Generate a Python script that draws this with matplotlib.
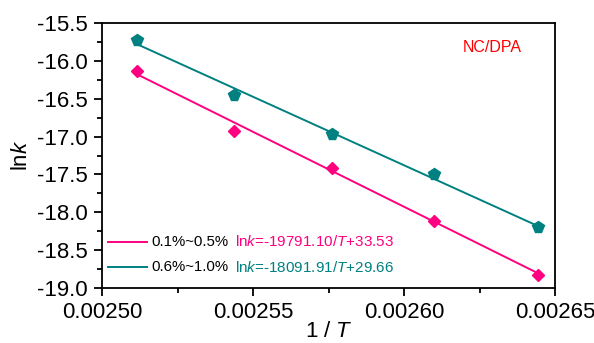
import matplotlib
matplotlib.use('Agg')
import matplotlib.pyplot as plt
import numpy as np
from matplotlib.ticker import MultipleLocator, AutoMinorLocator, FormatStrFormatter

plt.rcParams['font.family'] = ['Liberation Sans', 'DejaVu Sans']
plt.rcParams['mathtext.fontset'] = 'custom'
plt.rcParams['mathtext.rm'] = 'Liberation Sans'
plt.rcParams['mathtext.it'] = 'Liberation Sans:italic'

# 1/T values and ln k
inv_T = [0.0025115, 0.0025436, 0.0025763, 0.0026100, 0.0026445]
lnk_low = [-16.13, -16.92, -17.42, -18.11, -18.83]
lnk_high = [-15.72, -16.45, -16.96, -17.49, -18.20]

# fit coefficients given in the labels
slope_low, icpt_low = -19791.10, 33.53
slope_high, icpt_high = -18091.91, 29.66

series_labels = ['0.1%~0.5%', '0.6%~1.0%']
eq_labels = ['ln$k$=-19791.10/$T$+33.53', 'ln$k$=-18091.91/$T$+29.66']

pink = '#FF0080'
teal = '#008080'

W, H = 594, 343
fig = plt.figure(figsize=(W / 100, H / 100), dpi=100)
ax = fig.add_axes([102 / W, 1 - 288 / H, 453 / W, 265 / H])

x = np.array(inv_T)
xl = np.array([x.min(), x.max()])
ax.plot(xl, slope_low * xl + icpt_low, color=pink, lw=1.4)
ax.plot(xl, slope_high * xl + icpt_high, color=teal, lw=1.4)
ax.plot(x, lnk_low, 'D', color=pink, ms=6.5, mec=pink)
ax.plot(x, lnk_high, 'p', color=teal, ms=8.5, mec=teal)

ax.set_xlim(0.0025, 0.00265)
ax.set_ylim(-19.0, -15.5)
ax.xaxis.set_major_locator(MultipleLocator(0.00005))
ax.xaxis.set_minor_locator(AutoMinorLocator(2))
ax.yaxis.set_major_locator(MultipleLocator(0.5))
ax.yaxis.set_minor_locator(AutoMinorLocator(2))
ax.xaxis.set_major_formatter(FormatStrFormatter('%.5f'))
ax.yaxis.set_major_formatter(FormatStrFormatter('%.1f'))

ax.tick_params(which='both', direction='out', top=False, right=False, width=1.3)
ax.tick_params(which='major', length=6, labelsize=16, pad=4)
ax.tick_params(which='minor', length=3.5)
for s in ax.spines.values():
    s.set_linewidth(1.3)

ax.set_ylabel('ln$k$', fontsize=16)
ax.yaxis.set_label_coords(-0.155, 0.5)
ax.set_xlabel('1 / $T$', fontsize=16)
ax.xaxis.set_label_coords(0.5, -0.125)

ax.text(0.862, 0.909, 'NC/DPA', color='#FF0000', fontsize=11.5, ha='center', va='center',
        transform=ax.transAxes)

renderer = fig.canvas.get_renderer()


def fit_width(t, target):
    # scale a text's font size so it spans target pixels
    w = t.get_window_extent(renderer).width
    t.set_fontsize(t.get_fontsize() * target / w)


# hand-built legend: line handle, black label, coloured fit equation
rows_y = [242, 267]
for lab, eq, col, yp in zip(series_labels, eq_labels, [pink, teal], rows_y):
    fig.add_artist(plt.Line2D([108 / W, 147 / W], [1 - yp / H] * 2, color=col, lw=1.4))
    t1 = fig.text(151 / W, 1 - yp / H, lab, color='black', fontsize=12, va='center')
    fit_width(t1, 77)
    t2 = fig.text(235 / W, 1 - yp / H, eq, color=col, fontsize=12, va='center')
    fit_width(t2, 159)

fig.savefig('out.png', dpi=100)
